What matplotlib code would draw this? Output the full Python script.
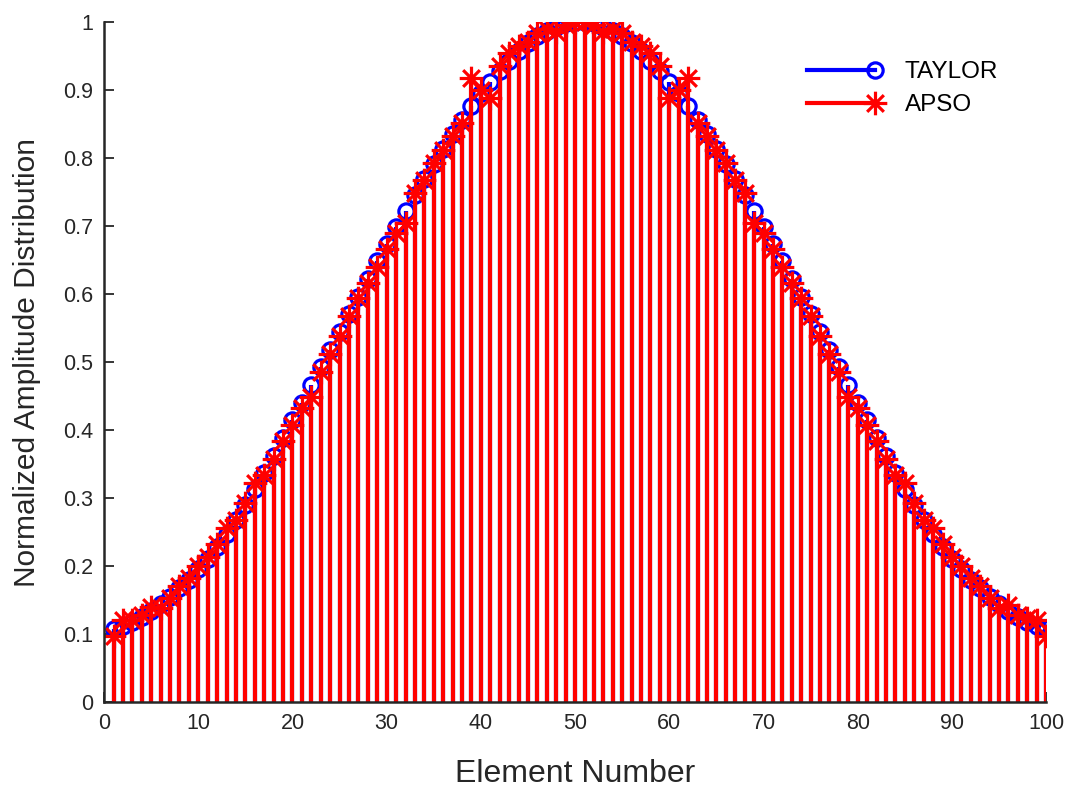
import numpy as np
import matplotlib
matplotlib.use("Agg")
import matplotlib.pyplot as plt
from matplotlib.path import Path
from matplotlib.lines import Line2D
from matplotlib.legend_handler import HandlerLine2D

plt.rcParams['font.family'] = ['Liberation Sans', 'DejaVu Sans']

# Element index 1..100
elements = list(range(1, 101))

# Taylor amplitude taper, elements 1..50 (the array is symmetric)
taylor_half = [
    0.107, 0.112, 0.118, 0.125, 0.134, 0.144, 0.155, 0.167, 0.180, 0.195,
    0.211, 0.228, 0.247, 0.268, 0.290, 0.313, 0.337, 0.362, 0.388, 0.414,
    0.440, 0.466, 0.492, 0.518, 0.544, 0.570, 0.596, 0.622, 0.648, 0.673,
    0.698, 0.722, 0.746, 0.769, 0.791, 0.813, 0.835, 0.856, 0.876, 0.895,
    0.912, 0.928, 0.943, 0.957, 0.969, 0.979, 0.987, 0.993, 0.998, 1.000,
]
taylor = taylor_half + taylor_half[::-1]

# APSO optimised amplitudes, elements 1..50 and 51..100
apso_left = [
    0.097, 0.120, 0.121, 0.128, 0.140, 0.138, 0.153, 0.170, 0.182, 0.200,
    0.213, 0.233, 0.256, 0.268, 0.292, 0.322, 0.334, 0.358, 0.384, 0.408,
    0.433, 0.448, 0.486, 0.512, 0.538, 0.568, 0.594, 0.616, 0.640, 0.666,
    0.690, 0.705, 0.748, 0.768, 0.793, 0.812, 0.833, 0.852, 0.918, 0.900,
    0.888, 0.935, 0.955, 0.965, 0.970, 0.984, 0.990, 0.985, 0.996, 1.000,
]
apso_right = [
    1.000, 0.996, 0.985, 0.990, 0.984, 0.970, 0.965, 0.955, 0.935, 0.888,
    0.900, 0.918, 0.852, 0.833, 0.812, 0.793, 0.768, 0.748, 0.705, 0.690,
    0.666, 0.640, 0.616, 0.594, 0.568, 0.538, 0.512, 0.486, 0.448, 0.433,
    0.408, 0.384, 0.358, 0.334, 0.322, 0.292, 0.268, 0.256, 0.233, 0.213,
    0.200, 0.182, 0.170, 0.153, 0.138, 0.143, 0.128, 0.124, 0.120, 0.097,
]
apso = apso_left + apso_right

xticks = list(range(0, 101, 10))
yticks = [round(0.1 * i, 1) for i in range(11)]
ytick_labels = ['0', '0.1', '0.2', '0.3', '0.4', '0.5', '0.6', '0.7', '0.8', '0.9', '1']

# Line-drawn asterisk marker (four crossing strokes)
c = np.cos(np.pi / 4)
ast_verts = [(-1, 0), (1, 0), (0, -1), (0, 1), (-c, -c), (c, c), (-c, c), (c, -c)]
ast_codes = [Path.MOVETO, Path.LINETO] * 4
asterisk = Path(ast_verts, ast_codes)

fig = plt.figure(figsize=(10.73, 7.87), dpi=100)
ax = fig.add_axes([0.097, 0.108, 0.878, 0.864])

ink = '#262626'

t_markers, t_stems, t_base = ax.stem(elements, taylor, basefmt=' ')
plt.setp(t_stems, color='blue', linewidth=3.0)
plt.setp(t_markers, marker='o', markersize=11, markerfacecolor='none',
         markeredgecolor='blue', markeredgewidth=2.3)

a_markers, a_stems, a_base = ax.stem(elements, apso, basefmt=' ')
plt.setp(a_stems, color='red', linewidth=3.0)
plt.setp(a_markers, marker=asterisk, markersize=17, markerfacecolor='none',
         markeredgecolor='red', markeredgewidth=2.3, linestyle='none')

ax.set_xlim(0, 100)
ax.set_ylim(0, 1)
ax.set_xticks(xticks)
ax.set_yticks(yticks)
ax.set_yticklabels(ytick_labels)
ax.tick_params(direction='in', length=7, width=1.3, colors=ink,
               labelsize=15.5, pad=8)
for side in ('top', 'right'):
    ax.spines[side].set_visible(False)
for side in ('left', 'bottom'):
    ax.spines[side].set_linewidth(1.8)
    ax.spines[side].set_color(ink)

ax.set_xlabel('Element Number', fontsize=23, color=ink, labelpad=18)
ax.set_ylabel('Normalized Amplitude Distribution', fontsize=21.5, color=ink,
              labelpad=16)


class EndMarkerHandler(HandlerLine2D):
    """Legend entry with the marker sitting at the right end of the line."""
    def create_artists(self, legend, orig_handle, xdescent, ydescent,
                       width, height, fontsize, trans):
        artists = super().create_artists(legend, orig_handle, xdescent,
                                         ydescent, width, height, fontsize,
                                         trans)
        for a in artists:
            a.set_markevery([2])
        return artists


h_taylor = Line2D([], [], color='blue', linewidth=3.0, marker='o',
                  markersize=11, markerfacecolor='none',
                  markeredgecolor='blue', markeredgewidth=2.3)
h_apso = Line2D([], [], color='red', linewidth=3.0, marker=asterisk,
                markersize=17, markerfacecolor='none',
                markeredgecolor='red', markeredgewidth=2.3)
leg = ax.legend([h_taylor, h_apso], ['TAYLOR', 'APSO'], loc='upper left',
                bbox_to_anchor=(0.732, 0.950), bbox_transform=fig.transFigure,
                frameon=False, fontsize=17.5, handlelength=2.8, handletextpad=1.2,
                labelspacing=0.45, numpoints=1,
                handler_map={Line2D: EndMarkerHandler()})
for t in leg.get_texts():
    t.set_color('black')

fig.savefig('out.png', dpi=100)
